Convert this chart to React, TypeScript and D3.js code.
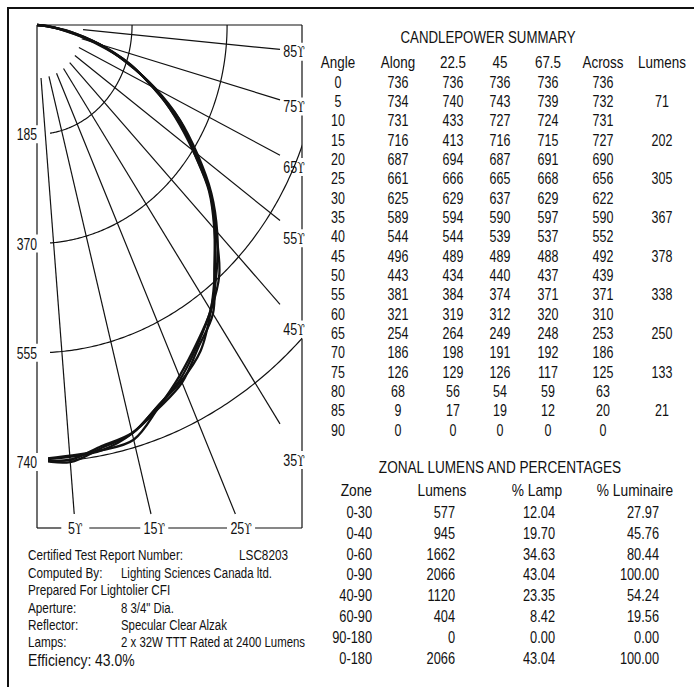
import React, {useEffect, useRef} from 'react';
import * as d3 from 'd3';

// candlepower by vertical angle, one array per plane
const angles = [0, 5, 10, 15, 20, 25, 30, 35, 40, 45, 50, 55, 60, 65, 70, 75, 80, 85, 90];
const along = [736, 734, 731, 716, 687, 661, 625, 589, 544, 496, 443, 381, 321, 254, 186, 126, 68, 9, 0];
const plane225 = [736, 740, 433, 413, 694, 666, 629, 594, 544, 489, 434, 384, 319, 264, 198, 129, 56, 17, 0];
const plane45 = [736, 743, 727, 716, 687, 665, 637, 590, 539, 489, 440, 374, 312, 249, 191, 126, 54, 19, 0];
const plane675 = [736, 739, 724, 715, 691, 668, 629, 597, 537, 488, 437, 371, 320, 248, 192, 117, 59, 12, 0];
const across = [736, 732, 731, 727, 690, 656, 622, 590, 552, 492, 439, 371, 310, 253, 186, 125, 63, 20, 0];
const rowLumens = ['', '71', '', '202', '', '305', '', '367', '', '378', '', '338', '', '250', '', '133', '', '21', ''];

const cpHeaders = ['Angle', 'Along', '22.5', '45', '67.5', 'Across', 'Lumens'];

const zones = ['0-30', '0-40', '0-60', '0-90', '40-90', '60-90', '90-180', '0-180'];
const zoneLumens = ['577', '945', '1662', '2066', '1120', '404', '0', '2066'];
const pctLamp = ['12.04', '19.70', '34.63', '43.04', '23.35', '8.42', '0.00', '43.04'];
const pctLuminaire = ['27.97', '45.76', '80.44', '100.00', '54.24', '19.56', '0.00', '100.00'];

const rings = [185, 370, 555, 740];
const rayAngles = [5, 15, 25, 35, 45, 55, 65, 75, 85];

const infoLines: [string, string][] = [
  ['Computed By:', 'Lighting Sciences Canada ltd.'],
  ['Prepared For Lightolier CFI', ''],
  ['Aperture:', '8 3/4" Dia.'],
  ['Reflector:', 'Specular Clear Alzak'],
  ['Lamps:', '2 x 32W TTT Rated at 2400 Lumens'],
];

const FONT = '"Liberation Sans", Arial, sans-serif';
const DEG = '\u03D2';

type Sel = d3.Selection<SVGGElement, unknown, null, undefined>;

// condensed text: a regular sans squeezed horizontally
const txt = (p: Sel, x: number, y: number, s: string | number, size: number,
  anchor = 'start', sx = 0.8) =>
  p.append('text')
    .attr('transform', `translate(${x},${y}) scale(${sx},1)`)
    .attr('font-size', size)
    .attr('text-anchor', anchor)
    .text(s);

export default function App() {
  const svgRef = useRef<SVGSVGElement>(null);

  useEffect(() => {
    if (!svgRef.current) return;
    const svg = d3.select(svgRef.current);
    svg.selectAll('*').remove();

    // outer frame
    svg.append('rect').attr('x', 8).attr('y', 8).attr('width', 720).attr('height', 720)
      .attr('fill', 'none').attr('stroke', '#111').attr('stroke-width', 2);

    // polar plot geometry
    const ox = 37, oy = 25, right = 302, bottom = 528;
    const k = 0.87; // horizontal squash of the plot
    const r = d3.scaleLinear().domain([0, 740]).range([0, 437]);
    const pt = (deg: number, v: number): [number, number] => {
      const t = (deg * Math.PI) / 180;
      return [ox + k * r(v) * Math.sin(t), oy + r(v) * Math.cos(t)];
    };

    const defs = svg.append('defs');
    defs.append('clipPath').attr('id', 'ringClip').append('rect')
      .attr('x', 50).attr('y', oy).attr('width', right - 50).attr('height', bottom - oy);
    defs.append('clipPath').attr('id', 'curveClip').append('path')
      .attr('d', `M30,18H310V540H48V300H30Z`);

    const g = svg.append('g').attr('fill', 'none').attr('stroke', '#111');

    // rings
    rings.forEach((v) => {
      const pts = d3.range(0, 90.5, 0.5).map((a) => pt(a, v));
      g.append('path').attr('clip-path', 'url(#ringClip)')
        .attr('d', d3.line()(pts)).attr('stroke-width', 1.2);
    });

    // rays and their labels
    const labels = svg.append('g').attr('font-family', FONT).attr('fill', '#111');
    const rayLabel = (x: number, y: number, a: number) => {
      const t = txt(labels, x, y, '', 16, 'middle', 0.78);
      t.append('tspan').text(a);
      t.append('tspan').attr('font-family', '"DejaVu Serif", serif').attr('font-size', 14).text(DEG);
    };
    const rightGaps: number[] = [];
    const bottomGaps: number[] = [];
    rayAngles.forEach((a) => {
      const t = (a * Math.PI) / 180;
      const dx = k * Math.sin(t), dy = Math.cos(t);
      const start = pt(a, 90);
      const tRight = (right - ox) / dx;
      const tBottom = (bottom - oy) / dy;
      if (tRight < tBottom) {
        const yEnd = oy + tRight * dy;
        const tEnd = (right - 22 - ox) / dx;
        g.append('line').attr('x1', start[0]).attr('y1', start[1])
          .attr('x2', ox + tEnd * dx).attr('y2', oy + tEnd * dy).attr('stroke-width', 1.2);
        rayLabel(right - 8, yEnd + 5.5, a);
        rightGaps.push(yEnd);
      } else {
        const xEnd = ox + tBottom * dx;
        const tEnd = (bottom - 14 - oy) / dy;
        g.append('line').attr('x1', start[0]).attr('y1', start[1])
          .attr('x2', ox + tEnd * dx).attr('y2', oy + tEnd * dy).attr('stroke-width', 1.2);
        rayLabel(xEnd, bottom + 5.5, a);
        bottomGaps.push(xEnd);
      }
    });

    // frame with gaps for labels
    const segs = (from: number, to: number, gaps: number[], half: number) => {
      const out: [number, number][] = [];
      let cur = from;
      gaps.slice().sort((a, b) => a - b).forEach((c) => {
        out.push([cur, c - half]);
        cur = c + half;
      });
      out.push([cur, to]);
      return out;
    };
    g.append('line').attr('x1', ox).attr('y1', oy).attr('x2', right).attr('y2', oy).attr('stroke-width', 1.2);
    segs(oy, bottom, rings.map((v) => oy + r(v)), 9).forEach(([a, b]) =>
      g.append('line').attr('x1', ox).attr('x2', ox).attr('y1', a).attr('y2', b).attr('stroke-width', 1.2));
    segs(oy, bottom, rightGaps, 9).forEach(([a, b]) =>
      g.append('line').attr('x1', right).attr('x2', right).attr('y1', a).attr('y2', b).attr('stroke-width', 1.2));
    segs(ox, right, bottomGaps, 14).forEach(([a, b]) =>
      g.append('line').attr('y1', bottom).attr('y2', bottom).attr('x1', a).attr('x2', b).attr('stroke-width', 1.2));

    rings.forEach((v) => {
      txt(labels, ox, oy + r(v) + 6, v, 16, 'end', 0.76);
    });

    // candlepower curves
    const curve = d3.line<number>()
      .x((v, i) => pt(angles[i], v)[0])
      .y((v, i) => pt(angles[i], v)[1])
      .curve(d3.curveCatmullRom);
    [along, plane45, plane675, across].forEach((series) => {
      g.append('path').attr('clip-path', 'url(#curveClip)')
        .attr('d', curve(series)).attr('stroke-width', 2.3).attr('stroke-linejoin', 'round');
    });

    // candlepower summary table
    const tbl = svg.append('g').attr('font-family', FONT).attr('fill', '#111');
    txt(tbl, 488, 43, 'CANDLEPOWER SUMMARY', 17, 'middle', 0.78);
    const colPos = d3.scaleOrdinal<string, number>().domain(cpHeaders)
      .range([338, 398, 453, 500, 548, 603, 662]);
    const rowY = d3.scaleLinear().domain([0, angles.length - 1]).range([81.7, 430]);
    cpHeaders.forEach((h) => txt(tbl, colPos(h), 68, h, 16, 'middle', 0.84));
    const cols = [angles, along, plane225, plane45, plane675, across];
    angles.forEach((_, i) => {
      cols.forEach((c, j) => txt(tbl, colPos(cpHeaders[j]), rowY(i) + 5.8, c[i], 16, 'middle', 0.78));
      if (rowLumens[i]) txt(tbl, colPos('Lumens'), rowY(i) + 5.8, rowLumens[i], 16, 'middle', 0.78);
    });

    // zonal lumens table
    txt(tbl, 500, 473, 'ZONAL LUMENS AND PERCENTAGES', 17, 'middle', 0.8);
    const zHead: [string, number, string][] = [
      ['Zone', 372, 'end'],
      ['Lumens', 442, 'middle'],
      ['% Lamp', 537, 'middle'],
      ['% Luminaire', 635, 'middle'],
    ];
    zHead.forEach(([t, x, anchor]) => txt(tbl, x, 496, t, 16, anchor, 0.86));
    const zY = d3.scaleLinear().domain([0, zones.length - 1]).range([512, 658]);
    const zCols: [string[], number][] = [[zones, 372], [zoneLumens, 455], [pctLamp, 555], [pctLuminaire, 659]];
    zones.forEach((_, i) => {
      zCols.forEach(([c, x]) => txt(tbl, x, zY(i) + 5.8, c[i], 16, 'end', 0.8));
    });

    // report info
    const info = svg.append('g').attr('font-family', FONT).attr('fill', '#111');
    txt(info, 28, 560, 'Certified Test Report Number:', 14, 'start', 0.84);
    txt(info, 288, 560, 'LSC8203', 14, 'end', 0.84);
    const infoY = d3.scaleLinear().domain([0, 4]).range([573, 642]);
    infoLines.forEach(([a, b], i) => {
      txt(info, 28, infoY(i) + 5, a, 14, 'start', 0.84);
      if (b) txt(info, 121, infoY(i) + 5, b, 14, 'start', 0.815);
    });
    txt(info, 28, 666, 'Efficiency: 43.0%', 16.5, 'start', 0.845);
  }, []);

  return (
    <svg ref={svgRef} width={694} height={687}
      style={{position: 'absolute', left: 0, top: 0, background: '#fff'}} />
  );
}
